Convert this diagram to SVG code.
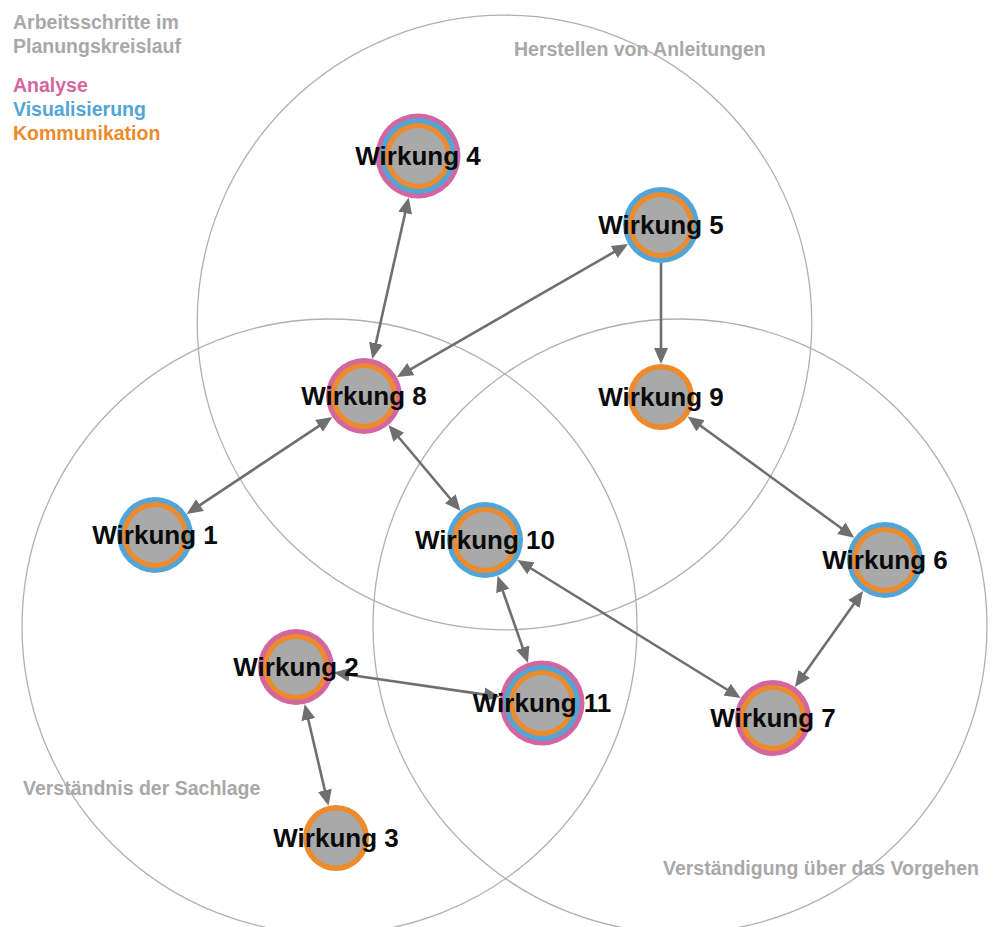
<svg xmlns="http://www.w3.org/2000/svg" width="996" height="927" viewBox="0 0 996 927">
<defs>
<style>
.bg{fill:none;stroke:#b0b0b0;stroke-width:1.3}
.cap{font-family:"Liberation Sans",Arial,sans-serif;font-weight:bold;font-size:19.5px;fill:#a8a8a8}
.lbl{font-family:"Liberation Sans",Arial,sans-serif;font-weight:bold;font-size:26px;fill:#0a0a0a;text-anchor:middle}
.pk{fill:#d4669f}.bl{fill:#52a5d6}.or{fill:#ec8a2c}.gy{fill:#a9a9a9}
.con line{stroke:#6f6f6f;stroke-width:2.6}
</style>
<marker id="ah" viewBox="0 0 16 16" markerWidth="16" markerHeight="16" markerUnits="userSpaceOnUse" refX="6" refY="8" orient="auto-start-reverse">
<path d="M0,1 L16,8 L0,15 Z" fill="#6f6f6f"/>
</marker>
</defs>
<rect width="996" height="927" fill="#ffffff"/>
<g id="areas">
<circle class="bg" cx="504.5" cy="322.5" r="307.3"/>
<circle class="bg" cx="329.5" cy="626.5" r="307.5"/>
<circle class="bg" cx="680" cy="626" r="307"/>
</g>
<g id="captions">
<text class="cap" x="514" y="56">Herstellen von Anleitungen</text>
<text class="cap" x="23" y="795">Verständnis der Sachlage</text>
<text class="cap" x="663" y="875">Verständigung über das Vorgehen</text>
</g>
<g id="legend">
<text class="cap" x="13" y="29">Arbeitsschritte im</text>
<text class="cap" x="13" y="53">Planungskreislauf</text>
<text class="cap" x="13" y="92" style="fill:#d4669f">Analyse</text>
<text class="cap" x="13" y="116" style="fill:#52a5d6">Visualisierung</text>
<text class="cap" x="13" y="140" style="fill:#ec8a2c">Kommunikation</text>
</g>
<g id="connectors" class="con">
<line x1="406.47" y1="207.22" x2="374.54" y2="349.17" marker-start="url(#ah)" marker-end="url(#ah)"/>
<line x1="619.40" y1="248.95" x2="405.60" y2="372.05" marker-start="url(#ah)" marker-end="url(#ah)"/>
<line x1="661" y1="263" x2="661" y2="354" marker-end="url(#ah)"/>
<line x1="695.77" y1="422.30" x2="846.19" y2="531.76" marker-start="url(#ah)" marker-end="url(#ah)"/>
<line x1="324.03" y1="422.58" x2="194.97" y2="508.42" marker-start="url(#ah)" marker-end="url(#ah)"/>
<line x1="394.88" y1="432.75" x2="454.12" y2="503.25" marker-start="url(#ah)" marker-end="url(#ah)"/>
<line x1="500.84" y1="585.31" x2="524.67" y2="653.44" marker-start="url(#ah)" marker-end="url(#ah)"/>
<line x1="525.83" y1="565.24" x2="732.17" y2="692.76" marker-start="url(#ah)" marker-end="url(#ah)"/>
<line x1="857.24" y1="599.16" x2="800.76" y2="678.84" marker-start="url(#ah)" marker-end="url(#ah)"/>
<line x1="343.50" y1="673.95" x2="490.05" y2="695.40" marker-start="url(#ah)" marker-end="url(#ah)"/>
<line x1="306.94" y1="713.74" x2="326.20" y2="796.13" marker-start="url(#ah)" marker-end="url(#ah)"/>
</g>
<g id="w1"><circle class="bl" cx="155" cy="535" r="38"/><circle class="or" cx="155" cy="535" r="33"/><circle class="gy" cx="155" cy="535" r="28"/><text class="lbl" x="155" y="544">Wirkung 1</text></g>
<g id="w2"><circle class="pk" cx="296" cy="667" r="38"/><circle class="or" cx="296" cy="667" r="33"/><circle class="gy" cx="296" cy="667" r="28"/><text class="lbl" x="296" y="676">Wirkung 2</text></g>
<g id="w3"><circle class="or" cx="336" cy="838" r="33"/><circle class="gy" cx="336" cy="838" r="27.5"/><text class="lbl" x="336" y="847">Wirkung 3</text></g>
<g id="w4"><circle class="pk" cx="418" cy="156" r="42.5"/><circle class="bl" cx="418" cy="156" r="38"/><circle class="or" cx="418" cy="156" r="33"/><circle class="gy" cx="418" cy="156" r="28"/><text class="lbl" x="418" y="165">Wirkung 4</text></g>
<g id="w5"><circle class="bl" cx="661" cy="225" r="38"/><circle class="or" cx="661" cy="225" r="33"/><circle class="gy" cx="661" cy="225" r="28"/><text class="lbl" x="661" y="234">Wirkung 5</text></g>
<g id="w6"><circle class="bl" cx="885" cy="560" r="38"/><circle class="or" cx="885" cy="560" r="33"/><circle class="gy" cx="885" cy="560" r="28"/><text class="lbl" x="885" y="569">Wirkung 6</text></g>
<g id="w7"><circle class="pk" cx="773" cy="718" r="38"/><circle class="or" cx="773" cy="718" r="33"/><circle class="gy" cx="773" cy="718" r="28"/><text class="lbl" x="773" y="727">Wirkung 7</text></g>
<g id="w8"><circle class="pk" cx="364" cy="396" r="38"/><circle class="or" cx="364" cy="396" r="33"/><circle class="gy" cx="364" cy="396" r="28"/><text class="lbl" x="364" y="405">Wirkung 8</text></g>
<g id="w9"><circle class="or" cx="661" cy="397" r="33"/><circle class="gy" cx="661" cy="397" r="27.5"/><text class="lbl" x="661" y="406">Wirkung 9</text></g>
<g id="w10"><circle class="bl" cx="485" cy="540" r="38"/><circle class="or" cx="485" cy="540" r="33"/><circle class="gy" cx="485" cy="540" r="28"/><text class="lbl" x="485" y="549">Wirkung 10</text></g>
<g id="w11"><circle class="pk" cx="542" cy="703" r="42.5"/><circle class="bl" cx="542" cy="703" r="38"/><circle class="or" cx="542" cy="703" r="33"/><circle class="gy" cx="542" cy="703" r="28"/><text class="lbl" x="542" y="712">Wirkung 11</text></g>
</svg>
